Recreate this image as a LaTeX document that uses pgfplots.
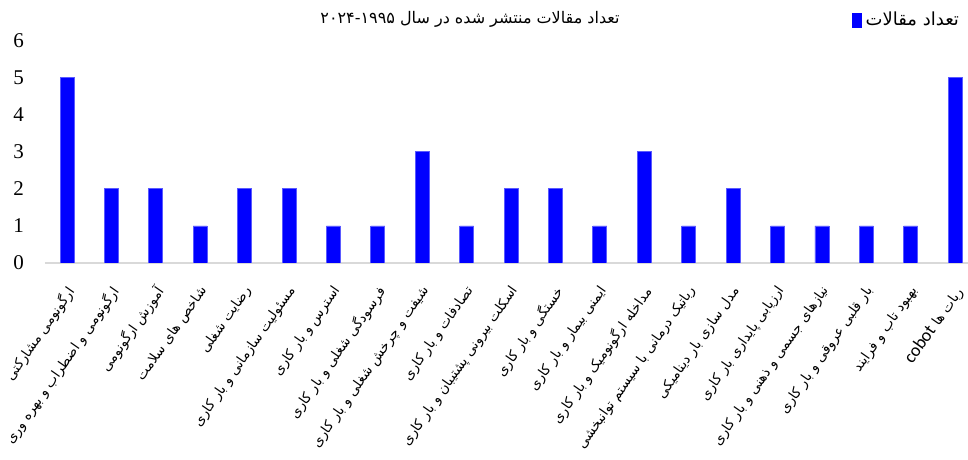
\documentclass[border=0pt]{standalone}
\usepackage{fontspec}
\usepackage{pgfplots}
\pgfplotsset{compat=1.18}
\setmainfont{Liberation Serif}
\newfontfamily\arabicfont[Script=Arabic]{DejaVu Sans}
\newfontfamily\latinsans{Carlito}
\TeXXeTstate=1
\definecolor{barblue}{RGB}{0,0,255}
\definecolor{baredge}{RGB}{90,90,255}
\definecolor{axgray}{RGB}{217,217,217}

\begin{document}
\begin{tikzpicture}
\useasboundingbox (0bp,0bp) rectangle (484bp,230bp);
\begin{axis}[
  at={(22.4bp,98.5bp)}, anchor=south west,
  scale only axis, width=461.6bp, height=111.2bp,
  ybar, bar width=7bp,
  xmin=-0.5, xmax=20.29, ymin=0, ymax=6,
  xtick={0,...,20},
  xticklabels={
    {\arabicfont\beginR ارگونومی مشارکتی\endR},
    {\arabicfont\beginR ارگونومی و اضطراب و بهره وری\endR},
    {\arabicfont\beginR آموزش ارگونومی\endR},
    {\arabicfont\beginR شاخص های سلامت\endR},
    {\arabicfont\beginR رضایت شغلی\endR},
    {\arabicfont\beginR مسئولیت سازمانی و بار کاری\endR},
    {\arabicfont\beginR استرس و بار کاری\endR},
    {\arabicfont\beginR فرسودگی شغلی و بار کاری\endR},
    {\arabicfont\beginR شیفت و چرخش شغلی و بار کاری\endR},
    {\arabicfont\beginR تصادفات و بار کاری\endR},
    {\arabicfont\beginR اسکلت بیرونی پشتیبان و بار کاری\endR},
    {\arabicfont\beginR خستگی و بار کاری\endR},
    {\arabicfont\beginR ایمنی بیمار و بار کاری\endR},
    {\arabicfont\beginR مداخله ارگونومیک و بار کاری\endR},
    {\arabicfont\beginR رباتیک درمانی با سیستم توانبخشی\endR},
    {\arabicfont\beginR مدل سازی بار دینامیکی\endR},
    {\arabicfont\beginR ارزیابی پایداری بار کاری\endR},
    {\arabicfont\beginR نیازهای جسمی و ذهنی و بار کاری\endR},
    {\arabicfont\beginR بار قلبی عروقی و بار کاری\endR},
    {\arabicfont\beginR بهبود تاب و فرایند\endR},
    {\arabicfont\beginR ربات ها \beginL{\latinsans\fontsize{9bp}{10bp}\selectfont cobot}\endL\endR}
  },
  ytick={0,...,6},
  axis x line=bottom, axis y line=left,
  x axis line style={draw=axgray, line width=0.9bp, -},
  y axis line style={draw=none},
  major tick length=0pt,
  tick style={draw=none},
  /pgf/number format/assume math mode=true,
  yticklabel style={font=\fontsize{10.5bp}{12bp}\selectfont, xshift=-7bp},
  xticklabel style={font=\fontsize{6.8bp}{8bp}\selectfont, xshift=-1bp, yshift=-10.5bp, rotate=55, anchor=north east, inner sep=0pt},
  title={\arabicfont\beginR تعداد مقالات منتشر شده در سال \beginL۲۰۲۴-۱۹۹۵\endL\endR},
  title style={at={(0.4606,1)}, anchor=center, yshift=4.5bp, font=\fontsize{8bp}{9bp}\selectfont},
  legend style={at={(0.995,1)}, anchor=east, yshift=10.3bp, draw=none, fill=none, inner sep=0pt,
    font=\fontsize{9bp}{10bp}\selectfont},
  legend image code/.code={\fill[barblue] (0bp,-3.5bp) rectangle (4.5bp,3.5bp);},
]
\addplot[fill=barblue, draw=baredge, line width=0.4bp] coordinates {
  (0,5) (1,2) (2,2) (3,1) (4,2) (5,2) (6,1) (7,1) (8,3) (9,1)
  (10,2) (11,2) (12,1) (13,3) (14,1) (15,2) (16,1) (17,1) (18,1) (19,1) (20,5)
};
\addlegendentry{\arabicfont\beginR تعداد مقالات\endR}
\end{axis}
\end{tikzpicture}
\end{document}
